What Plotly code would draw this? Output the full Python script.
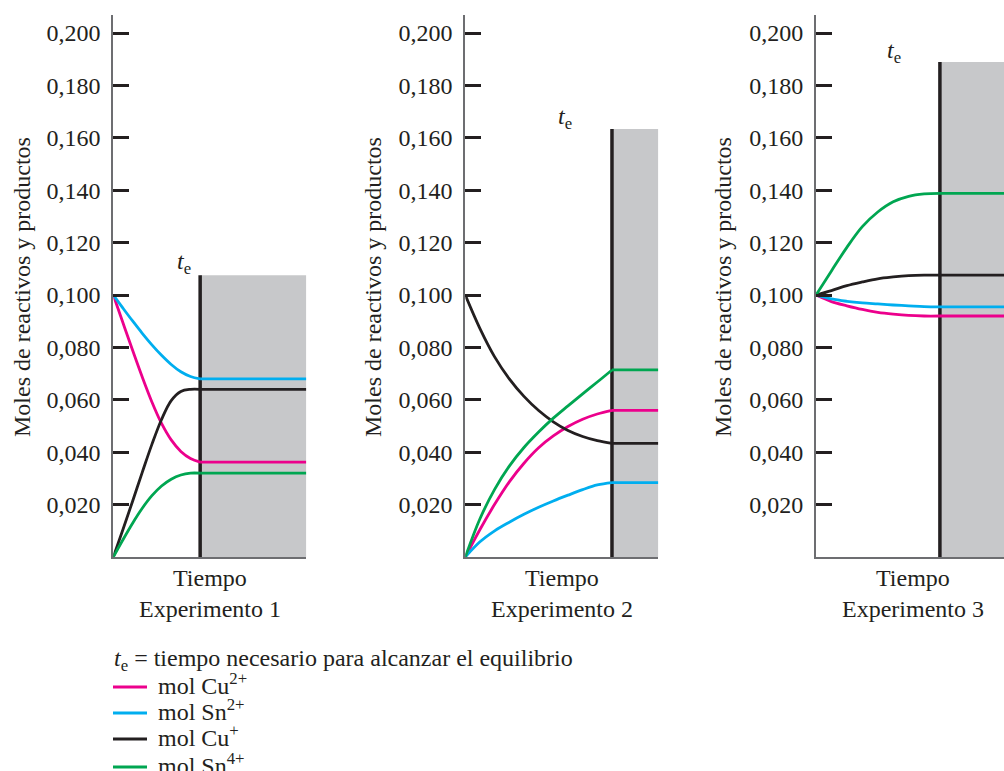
import plotly.graph_objects as go

# ---------------------------------------------------------------- data
# Moles of each species versus time (arbitrary time units, 0-10 per panel).
# Each series is sampled up to the equilibrium time t_e; after t_e it stays flat.

# Experiment 1
E1_TIME = [0, 0.5, 1.0, 1.5, 2.0, 2.5, 3.0, 3.5, 4.0, 4.5]
E1_CU2 = [0.100, 0.0894, 0.0789, 0.0687, 0.0592, 0.0510, 0.0447, 0.0403, 0.0376, 0.0362]
E1_SN2 = [0.100, 0.0950, 0.0901, 0.0854, 0.0810, 0.0770, 0.0735, 0.0707, 0.0689, 0.0680]
E1_CU1 = [0.000, 0.0105, 0.0213, 0.0323, 0.0430, 0.0525, 0.0597, 0.0632, 0.0640, 0.0640]
E1_SN4 = [0.000, 0.0066, 0.0129, 0.0186, 0.0234, 0.0271, 0.0297, 0.0313, 0.0320, 0.0320]
E1_TE = 4.5
E1_SHADE_TOP = 0.1076

# Experiment 2
E2_TIME = [0, 0.76, 1.52, 2.28, 3.04, 3.8, 4.56, 5.32, 6.08, 6.84, 7.6]
E2_CU2 = [0.000, 0.0105, 0.0201, 0.0287, 0.0358, 0.0417, 0.0462, 0.0498, 0.0526, 0.0546, 0.0560]
E2_SN2 = [0.000, 0.0058, 0.0100, 0.0133, 0.0163, 0.0190, 0.0214, 0.0236, 0.0257, 0.0275, 0.0284]
E2_CU1 = [0.100, 0.0872, 0.0764, 0.0680, 0.0613, 0.0559, 0.0516, 0.0483, 0.0460, 0.0444, 0.0434]
E2_SN4 = [0.000, 0.0146, 0.0258, 0.0347, 0.0418, 0.0477, 0.0530, 0.0577, 0.0623, 0.0668, 0.0714]
E2_TE = 7.6
E2_SHADE_TOP = 0.1634

# Experiment 3
E3_TIME = [0, 0.8, 1.6, 2.4, 3.2, 4.0, 4.8, 5.6, 6.42]
E3_CU2 = [0.100, 0.0975, 0.0959, 0.0945, 0.0934, 0.0927, 0.0922, 0.0920, 0.0920]
E3_SN2 = [0.100, 0.0985, 0.0976, 0.0970, 0.0966, 0.0962, 0.0959, 0.0956, 0.0955]
E3_CU1 = [0.100, 0.1017, 0.1036, 0.1050, 0.1062, 0.1069, 0.1074, 0.1076, 0.1076]
E3_SN4 = [0.100, 0.1092, 0.1182, 0.1261, 0.1317, 0.1356, 0.1377, 0.1386, 0.1388]
E3_TE = 6.42
E3_SHADE_TOP = 0.189

T_END = 10
Y_TICKS = [0, 0.02, 0.04, 0.06, 0.08, 0.10, 0.12, 0.14, 0.16, 0.18, 0.20]
Y_TICKTEXT = ["", "0,020", "0,040", "0,060", "0,080", "0,100",
              "0,120", "0,140", "0,160", "0,180", "0,200"]

SPECIES = ["Cu2+", "Sn2+", "Cu+", "Sn4+"]
LEGEND_TEXT = ["mol Cu<sup>2+</sup>", "mol Sn<sup>2+</sup>",
               "mol Cu<sup>+</sup>", "mol Sn<sup>4+</sup>"]
EXPERIMENT_LABELS = ["Experimento 1", "Experimento 2", "Experimento 3"]

# ---------------------------------------------------------------- style
W, H = 1004, 771
INK = "#231f20"
AXIS_GREY = "#6d6e71"
SHADE = "#c7c8ca"
SERIES_COLORS = ["#ec008c", "#00aeef", "#231f20", "#00a651"]
FONT = "Liberation Serif, Times New Roman, serif"
FS = 24


def px(x):
    return x / W


def py(y):
    return 1 - y / H


experiments = [
    (E1_TIME, [E1_CU2, E1_SN2, E1_CU1, E1_SN4], E1_TE, E1_SHADE_TOP),
    (E2_TIME, [E2_CU2, E2_SN2, E2_CU1, E2_SN4], E2_TE, E2_SHADE_TOP),
    (E3_TIME, [E3_CU2, E3_SN2, E3_CU1, E3_SN4], E3_TE, E3_SHADE_TOP),
]

# panel geometry in pixels: left edge of the axis, plot width
PANEL_LEFT = [113.3, 465.3, 816.0]
PANEL_WIDTH = 193.0
PLOT_TOP, PLOT_BOTTOM = 15, 557
Y_MAX = 0.2069

fig = go.Figure()
shapes = []
annotations = []

for i, (times, series, te, shade_top) in enumerate(experiments):
    sfx = "" if i == 0 else str(i + 1)
    xa, ya = "x" + sfx, "y" + sfx
    left = PANEL_LEFT[i]
    right_px = min(left + PANEL_WIDTH, W)
    x_max = T_END * (right_px - left) / PANEL_WIDTH

    for name, vals, color in zip(SPECIES, series, SERIES_COLORS):
        # approach to equilibrium
        fig.add_trace(go.Scatter(
            x=times, y=vals, mode="lines", name=name,
            line=dict(color=color, width=2.8, shape="spline", smoothing=1.0),
            xaxis=xa, yaxis=ya, showlegend=False, hoverinfo="skip"))
        # equilibrium plateau
        fig.add_trace(go.Scatter(
            x=[te, T_END], y=[vals[-1], vals[-1]], mode="lines", name=name,
            line=dict(color=color, width=2.8),
            xaxis=xa, yaxis=ya, showlegend=False, hoverinfo="skip"))

    # shaded equilibrium region and t_e marker
    shapes.append(dict(type="rect", xref=xa, yref=ya, x0=te, x1=T_END, y0=0, y1=shade_top,
                       fillcolor=SHADE, line=dict(width=0), layer="below"))
    shapes.append(dict(type="line", xref=xa, yref=ya, x0=te, x1=te, y0=0, y1=shade_top,
                       line=dict(color=INK, width=3.5), layer="below"))

    fig.update_layout(**{
        "xaxis" + sfx: dict(domain=[px(left), px(right_px)], range=[0, x_max],
                            showline=True, linecolor=AXIS_GREY, linewidth=2,
                            showticklabels=False, ticks="", showgrid=False,
                            zeroline=False, anchor=ya, fixedrange=True),
        "yaxis" + sfx: dict(domain=[py(PLOT_BOTTOM), py(PLOT_TOP)], range=[0, Y_MAX],
                            showline=True, linecolor=AXIS_GREY, linewidth=2,
                            ticks="inside", ticklen=16, tickwidth=2.5, tickcolor=INK,
                            tickvals=Y_TICKS, ticktext=Y_TICKTEXT,
                            ticklabelstandoff=6,
                            tickfont=dict(family=FONT, size=FS, color=INK),
                            showgrid=False, zeroline=False, anchor=xa, fixedrange=True),
    })

    centre = left + PANEL_WIDTH / 2
    annotations.append(dict(text="Tiempo", x=px(centre), y=py(578), xref="paper", yref="paper",
                            xanchor="center", yanchor="middle", showarrow=False,
                            font=dict(family=FONT, size=FS, color=INK)))
    annotations.append(dict(text=EXPERIMENT_LABELS[i], x=px(centre), y=py(609),
                            xref="paper", yref="paper", xanchor="center", yanchor="middle",
                            showarrow=False, font=dict(family=FONT, size=FS, color=INK)))

# axis titles
for xc in [22, 373, 723]:
    annotations.append(dict(text="Moles de reactivos y productos", x=px(xc), y=py(287),
                            xref="paper", yref="paper", textangle=-90,
                            xanchor="center", yanchor="middle", showarrow=False,
                            font=dict(family=FONT, size=FS, color=INK)))

# t_e labels above each equilibrium marker (right edge, bottom edge in px)
for xr, yb in [(193, 280), (574, 135), (903, 69)]:
    annotations.append(dict(text="<i>t</i><sub>e</sub>", x=px(xr), y=py(yb),
                            xref="paper", yref="paper", xanchor="right", yanchor="bottom",
                            showarrow=False, font=dict(family=FONT, size=FS, color=INK)))

# key
annotations.append(dict(text="<i>t</i><sub>e</sub> = tiempo necesario para alcanzar el equilibrio",
                        x=px(112), y=py(660), xref="paper", yref="paper",
                        xanchor="left", yanchor="middle", showarrow=False,
                        font=dict(family=FONT, size=FS, color=INK)))
for k, (label, color) in enumerate(zip(LEGEND_TEXT, SERIES_COLORS)):
    yk = [687, 713, 739, 767][k]
    shapes.append(dict(type="line", xref="paper", yref="paper",
                       x0=px(113), x1=px(147), y0=py(yk), y1=py(yk),
                       line=dict(color=color, width=3)))
    annotations.append(dict(text=label, x=px(156), y=py(yk - 3), xref="paper", yref="paper",
                            xanchor="left", yanchor="middle", showarrow=False,
                            font=dict(family=FONT, size=FS, color=INK)))

fig.update_layout(
    width=W, height=H,
    margin=dict(l=0, r=0, t=0, b=0),
    paper_bgcolor="white", plot_bgcolor="white",
    shapes=shapes, annotations=annotations,
    showlegend=False,
)

fig.write_html("out.html", config={"displayModeBar": False})
